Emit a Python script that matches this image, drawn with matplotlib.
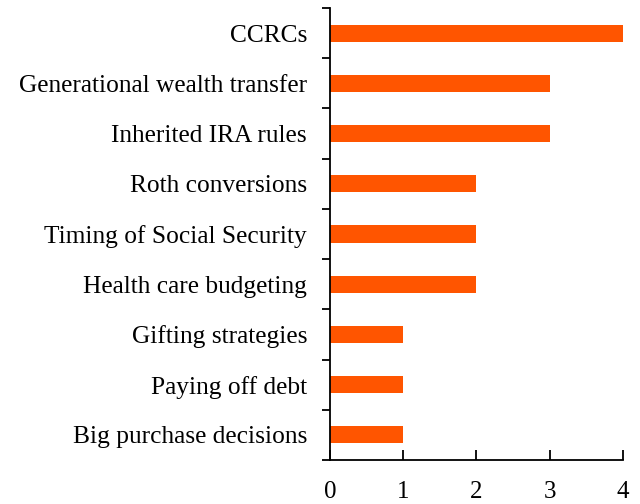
import matplotlib.pyplot as plt
import numpy as np

categories = ['CCRCs', 'Generational wealth transfer', 'Inherited IRA rules',
              'Roth conversions', 'Timing of Social Security', 'Health care budgeting',
              'Gifting strategies', 'Paying off debt', 'Big purchase decisions']
values = [4, 3, 3, 2, 2, 2, 1, 1, 1]
xticks = [0, 1, 2, 3, 4]

plt.rcParams['font.family'] = ['Liberation Serif', 'DejaVu Serif']

fig = plt.figure(figsize=(6.4, 5.04), dpi=100)
ax = fig.add_axes([0.5156, 0.0873, 0.4578, 0.8968])

y = np.arange(len(categories))
ax.barh(y, values, height=0.34, color='#FF5500')
ax.set_ylim(len(categories) - 0.5, -0.5)
ax.set_xlim(0, 4)

ax.set_yticks(y)
ax.set_yticklabels(categories, fontsize=18.3)
ax.set_yticks(np.arange(-0.5, len(categories)), minor=True)
ax.tick_params(axis='y', which='major', length=0, pad=16.5)
ax.tick_params(axis='y', which='minor', direction='out', length=6, width=1.3)

ax.set_xticks(xticks)
ax.set_xticklabels([str(t) for t in xticks], fontsize=18)
ax.tick_params(axis='x', direction='in', length=7, width=1.3, pad=15)

for s in ['top', 'right']:
    ax.spines[s].set_visible(False)
for s in ['left', 'bottom']:
    ax.spines[s].set_linewidth(1.3)

fig.savefig('out.png', dpi=100)
